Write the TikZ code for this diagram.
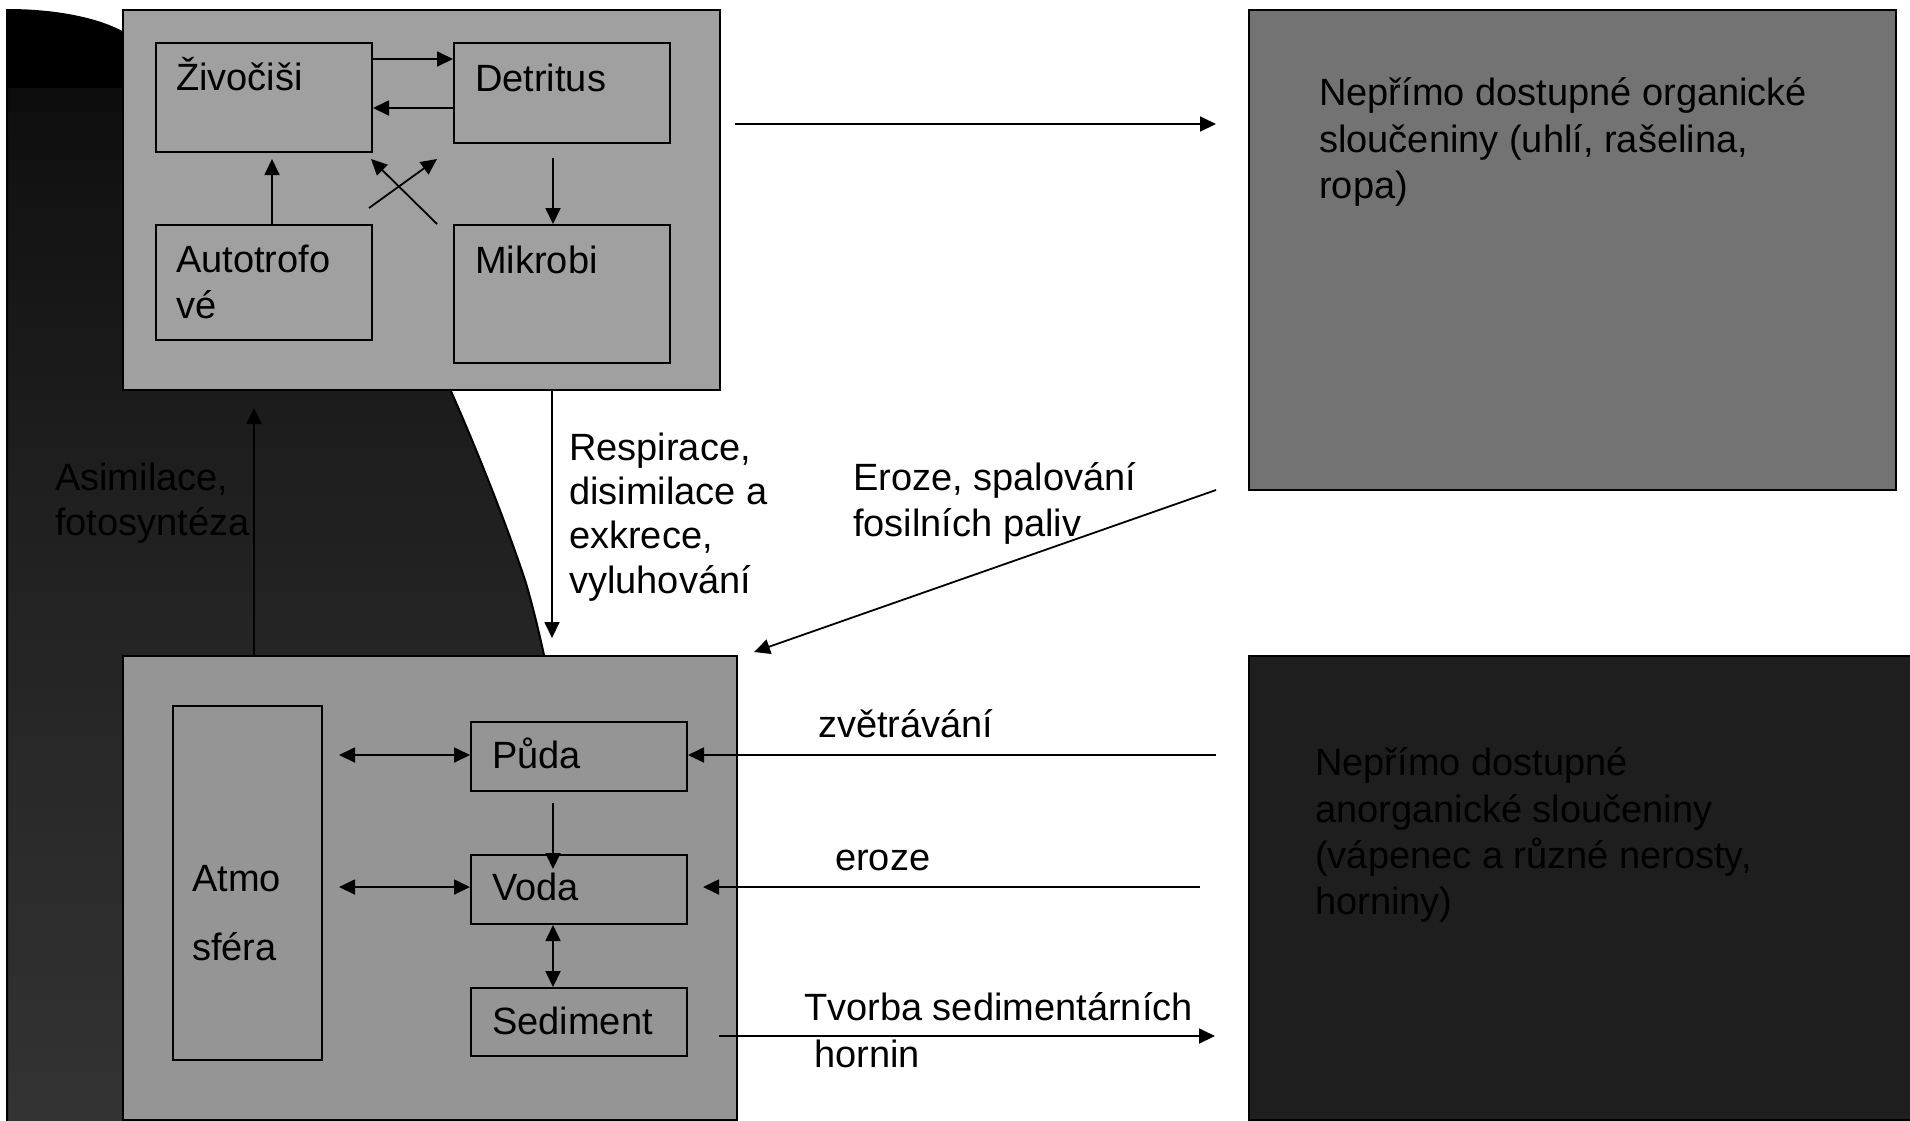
\documentclass[tikz,border=0pt]{standalone}
\usepackage{fontspec}
\setmainfont{Liberation Sans}
\usetikzlibrary{arrows.meta}
\definecolor{topfill}{HTML}{A0A0A0}
\definecolor{botfill}{HTML}{959595}
\definecolor{orgfill}{HTML}{737373}
\definecolor{anofill}{HTML}{1E1E1E}
\begin{document}
\begin{tikzpicture}[x=1pt,y=-1pt,
  box/.style={draw=black, line width=2pt, inner sep=0pt, anchor=north west},
  arr/.style={line width=1.8pt, -{Triangle[length=16pt,width=15pt]}},
  darr/.style={line width=1.8pt, {Triangle[length=16pt,width=15pt]}-{Triangle[length=16pt,width=15pt]}},
  lbl/.style={anchor=base west, inner sep=0pt, font=\fontsize{38}{46}\selectfont}]
\useasboundingbox (0,0) rectangle (1910,1120);
\fill[white] (0,0) rectangle (1910,1120);

% dark background shape with vertical gradient
\begin{scope}
\clip (7,1125) -- (7,10) .. controls (60,10) and (100,20) .. (122,32)
  .. controls (300,130) and (420,300) .. (450,389)
  .. controls (475,445) and (505,520) .. (525,580)
  .. controls (545,645) and (590,850) .. (600,1125) -- cycle;
\fill[black] (0,0) rectangle (700,89);
\foreach \i in {0,...,42} {
  \pgfmathsetmacro\yy{88+24*\i}
  \pgfmathsetmacro\pc{100-(4.5+15.5*pow((24*\i+12)/1032,0.75))}
  \fill[black!\pc] (0,\yy) rectangle (700,\yy+25);
}
\end{scope}
\draw[line width=2pt] (7,1125) -- (7,10) .. controls (60,10) and (100,20) .. (122,32)
  .. controls (300,130) and (420,300) .. (450,389)
  .. controls (475,445) and (505,520) .. (525,580)
  .. controls (545,645) and (590,850) .. (600,1125);

% outer boxes
\node[box, fill=topfill, minimum width=597pt, minimum height=380pt] (topbox) at (122,9) {};
\node[box, fill=orgfill, minimum width=647pt, minimum height=480pt] (orgbox) at (1248,9) {};
\node[box, fill=botfill, minimum width=614pt, minimum height=464pt] (botbox) at (122,655) {};
\node[box, fill=anofill, minimum width=664pt, minimum height=464pt] (anobox) at (1248,655) {};

% inner boxes, top
\node[box, minimum width=216pt, minimum height=109pt] (ziv) at (155,42) {};
\node[box, minimum width=216pt, minimum height=100pt] (det) at (453,42) {};
\node[box, minimum width=216pt, minimum height=115pt] (auto) at (155,224) {};
\node[box, minimum width=216pt, minimum height=138pt] (mik) at (453,224) {};

% inner boxes, bottom
\node[box, minimum width=149pt, minimum height=354pt] (atmo) at (172,705) {};
\node[box, minimum width=216pt, minimum height=69pt] (puda) at (470,721) {};
\node[box, minimum width=216pt, minimum height=69pt] (voda) at (470,854) {};
\node[box, minimum width=216pt, minimum height=68pt] (sed) at (470,987) {};

% named free ends
\coordinate (zd) at (0,59);
\coordinate (dz) at (0,108);
\coordinate (az) at (272,159);
\coordinate (c1s) at (437,224);
\coordinate (c1e) at (371,159);
\coordinate (c2s) at (369,208);
\coordinate (c2e) at (437,159);
\coordinate (dm) at (553,158);
\coordinate (to1) at (735,124);
\coordinate (to2) at (1216,124);
\coordinate (ob1) at (1216,490);
\coordinate (ob2) at (754,652);
\coordinate (resp) at (552,638);
\coordinate (asim) at (254,408);
\coordinate (zv) at (1216,755);
\coordinate (er1) at (1200,887);
\coordinate (er2) at (703,887);
\coordinate (tv1) at (719,1036);
\coordinate (tv2) at (1215,1036);
\coordinate (ap) at (339,755);
\coordinate (av) at (339,887);
\coordinate (pv1) at (553,803);
\coordinate (pv2) at (553,869);
\coordinate (vs) at (553,950);

% arrows, top group
\draw[arr] (ziv.east |- zd) -- (det.west |- zd);
\draw[arr] (det.west |- dz) -- (ziv.east |- dz);
\draw[arr] (auto.north -| az) -- (az);
\draw[arr] (c1s) -- (c1e);
\draw[arr] (c2s) -- (c2e);
\draw[arr] (dm) -- (mik.north -| dm);

% arrows between groups
\draw[arr] (to1) -- (to2);
\draw[arr] (ob1) -- (ob2);
\draw[arr] (topbox.south -| resp) -- (resp);
\draw[arr] (botbox.north -| asim) -- (asim);
\draw[arr] (zv) -- (puda.east |- zv);
\draw[arr] (er1) -- (er2);
\draw[arr] (tv1) -- (tv2);

% arrows, bottom group
\draw[darr] (ap) -- (puda.west |- ap);
\draw[darr] (av) -- (voda.west |- av);
\draw[arr] (pv1) -- (pv2);
\draw[darr] (voda.south -| vs) -- (sed.north -| vs);

% texts
\node[lbl] (tziv) at (176,90) {Živočiši};
\node[lbl] (tdet) at (475,91) {Detritus};
\node[lbl] (tauto1) at (176,272) {Autotrofo};
\node[lbl] (tauto2) at (176,318) {vé};
\node[lbl] (tmik) at (475,273) {Mikrobi};
\node[lbl] (torg1) at (1319,105) {Nepřímo dostupné organické};
\node[lbl] (torg2) at (1319,152) {sloučeniny (uhlí, rašelina,};
\node[lbl] (torg3) at (1319,198) {ropa)};
\node[lbl] (tresp1) at (569,460) {Respirace,};
\node[lbl] (tresp2) at (569,504) {disimilace a};
\node[lbl] (tresp3) at (569,548) {exkrece,};
\node[lbl] (tresp4) at (569,593) {vyluhování};
\node[lbl] (tasim1) at (55,490) {Asimilace,};
\node[lbl] (tasim2) at (55,535) {fotosyntéza};
\node[lbl] (tero1) at (853,490) {Eroze, spalování};
\node[lbl] (tero2) at (853,536) {fosilních paliv};
\node[lbl] (tzv) at (818,737) {zvětrávání};
\node[lbl] (teroze) at (835,870) {eroze};
\node[lbl] (ttv1) at (804,1020) {Tvorba sedimentárních};
\node[lbl] (ttv2) at (814,1067) {hornin};
\node[lbl] (tpuda) at (492,768) {Půda};
\node[lbl] (tvoda) at (492,900) {Voda};
\node[lbl] (tsed) at (492,1034) {Sediment};
\node[lbl] (tatmo1) at (192,891) {Atmo};
\node[lbl] (tatmo2) at (192,960) {sféra};
\node[lbl] (tano1) at (1315,775) {Nepřímo dostupné};
\node[lbl] (tano2) at (1315,822) {anorganické sloučeniny};
\node[lbl] (tano3) at (1315,868) {(vápenec a různé nerosty,};
\node[lbl] (tano4) at (1315,914) {horniny)};
\end{tikzpicture}
\end{document}
